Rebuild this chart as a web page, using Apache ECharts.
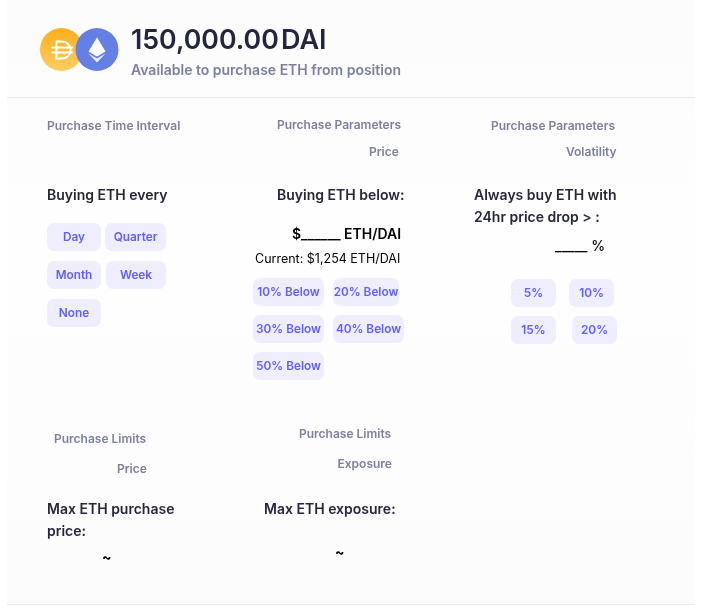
<!DOCTYPE html>
<html lang="en">
<head>
    <meta charset="UTF-8">
    <title>Purchase ETH from position</title>
    <script src="https://cdn.jsdelivr.net/npm/echarts@6/dist/echarts.min.js"></script>
    <style>
        html, body { margin: 0; padding: 0; background: #fff; }
    </style>
</head>
<body>
<div id="main" style="width: 707px;height:609px;"></div>
<script type="text/javascript">
    // texts shown on the card
    var amount = '150,000.00';
    var unit = 'DAI';
    var subtitle = 'Available to purchase ETH from position';
    var intervalOptions = ['Day', 'Quarter', 'Month', 'Week', 'None'];
    var priceOptions = ['10% Below', '20% Below', '30% Below', '40% Below', '50% Below'];
    var volatilityOptions = ['5%', '10%', '15%', '20%'];
    var sectionTitles = ['Purchase Time Interval', 'Purchase Parameters', 'Price', 'Purchase Parameters', 'Volatility',
        'Purchase Limits', 'Price', 'Purchase Limits', 'Exposure'];
    var questions = ['Buying ETH every', 'Buying ETH below:', 'Always buy ETH with', '24hr price drop > :',
        'Max ETH purchase', 'price:', 'Max ETH exposure:'];
    var priceInput = '$______ ETH/DAI';
    var currentPrice = 'Current: $1,254 ETH/DAI';
    var percentInput = '_____ %';
    var emptyValue = '~';

    var FONT = 'Inter';
    var items = [];

    function label(str, x, y, size, weight, color) {
        items.push({
            type: 'text', silent: true,
            style: { text: str, x: x, y: y, fontFamily: FONT, fontSize: size, fontWeight: weight, fill: color, verticalAlign: 'middle' }
        });
    }
    function sectionTitle(i, x, y) { label(sectionTitles[i], x, y, 12, 600, '#7d7f9f'); }
    function question(i, x, y) { label(questions[i], x, y, 14, 600, '#25273d'); }
    function button(str, x, y, w) {
        items.push({
            type: 'rect', silent: true,
            shape: { x: x, y: y, width: w, height: 28, r: 7 },
            style: { fill: '#efeefe' }
        });
        items.push({
            type: 'text', silent: true,
            style: { text: str, x: x + w / 2, y: y + 14.5, fontFamily: FONT, fontSize: 11.8, fontWeight: 600, fill: '#5f60ff', align: 'center', verticalAlign: 'middle' }
        });
    }
    function hline(y) {
        items.push({
            type: 'line', silent: true,
            shape: { x1: 7, y1: y + 0.5, x2: 695, y2: y + 0.5 },
            style: { stroke: '#ececef', lineWidth: 1 }
        });
    }

    // card background and separators
    items.push({ type: 'rect', silent: true, shape: { x: 7, y: 0, width: 688, height: 604 },
        style: { fill: new echarts.graphic.LinearGradient(0, 0, 0, 1, [{ offset: 0, color: '#fcfcfd' }, { offset: 0.4, color: '#fefefe' }, { offset: 1, color: '#fcfcfd' }]) } });
    hline(97);
    hline(604);

    // token icons
    items.push({ type: 'circle', silent: true, shape: { cx: 61.5, cy: 49.5, r: 21.5 },
        style: { fill: new echarts.graphic.LinearGradient(0, 0, 0, 1, [{ offset: 0, color: '#fdae19' }, { offset: 1, color: '#fecd62' }]) } });
    items.push({ type: 'arc', silent: true, shape: { cx: 62, cy: 50, r: 8.6, startAngle: -Math.PI / 2, endAngle: Math.PI / 2 },
        style: { stroke: '#fff', lineWidth: 2, fill: null } });
    items.push({ type: 'polyline', silent: true, shape: { points: [[62, 41.4], [56.5, 41.4], [56.5, 58.6], [62, 58.6]] },
        style: { stroke: '#fff', lineWidth: 2, fill: null } });
    items.push({ type: 'rect', silent: true, shape: { x: 51, y: 46.4, width: 22, height: 2, r: 1 }, style: { fill: '#fff' } });
    items.push({ type: 'rect', silent: true, shape: { x: 51, y: 51.6, width: 22, height: 2, r: 1 }, style: { fill: '#fff' } });
    items.push({ type: 'circle', silent: true, shape: { cx: 97, cy: 49.5, r: 21.5 }, style: { fill: '#6580e4' } });
    items.push({ type: 'polygon', silent: true, shape: { points: [[97, 37.5], [105.5, 51.5], [97, 56.5], [88.5, 51.5]] }, style: { fill: '#fff' } });
    items.push({ type: 'polygon', silent: true, shape: { points: [[88.5, 53.5], [97, 58.5], [105.5, 53.5], [97, 62.5]] }, style: { fill: '#fff', opacity: 0.85 } });

    // header
    label(amount, 131, 41, 26.7, 600, '#23263f');
    label(unit, 281, 41, 27, 600, '#23263f');
    label(subtitle, 131, 70.5, 14, 600, '#7d7f9f');

    // section titles
    sectionTitle(0, 47, 126);
    sectionTitle(1, 277, 125);
    sectionTitle(2, 369, 152);
    sectionTitle(3, 491, 126);
    sectionTitle(4, 566, 152);
    sectionTitle(5, 54, 439);
    sectionTitle(6, 117, 469);
    sectionTitle(7, 299, 434);
    sectionTitle(8, 337.5, 464);

    // questions
    question(0, 47, 196);
    question(1, 277, 196);
    question(2, 474, 196);
    question(3, 474, 218);
    question(4, 47, 510);
    question(5, 47, 532);
    question(6, 264, 510);

    // inputs
    label(priceInput, 292, 235, 14, 600, '#000');
    label(currentPrice, 255, 259, 12.5, 400, '#000');
    label(percentInput, 555, 247, 14, 500, '#000');
    label(emptyValue, 102, 558, 14, 700, '#000');
    label(emptyValue, 335, 553, 14, 700, '#000');

    // option buttons
    button(intervalOptions[0], 47, 223, 54);
    button(intervalOptions[1], 105, 223, 61);
    button(intervalOptions[2], 47, 261, 54);
    button(intervalOptions[3], 106, 261, 60);
    button(intervalOptions[4], 47, 299, 54);

    button(priceOptions[0], 253, 278, 71);
    button(priceOptions[1], 333, 278, 66);
    button(priceOptions[2], 253, 315, 71);
    button(priceOptions[3], 333, 315, 71);
    button(priceOptions[4], 253, 352, 71);

    button(volatilityOptions[0], 511, 279, 45);
    button(volatilityOptions[1], 569, 279, 45);
    button(volatilityOptions[2], 511, 316, 45);
    button(volatilityOptions[3], 572, 316, 45);

    var myChart = echarts.init(document.getElementById('main'));
    myChart.setOption({
        backgroundColor: '#fff',
        animation: false,
        graphic: { elements: items }
    });
</script>
</body>
</html>
